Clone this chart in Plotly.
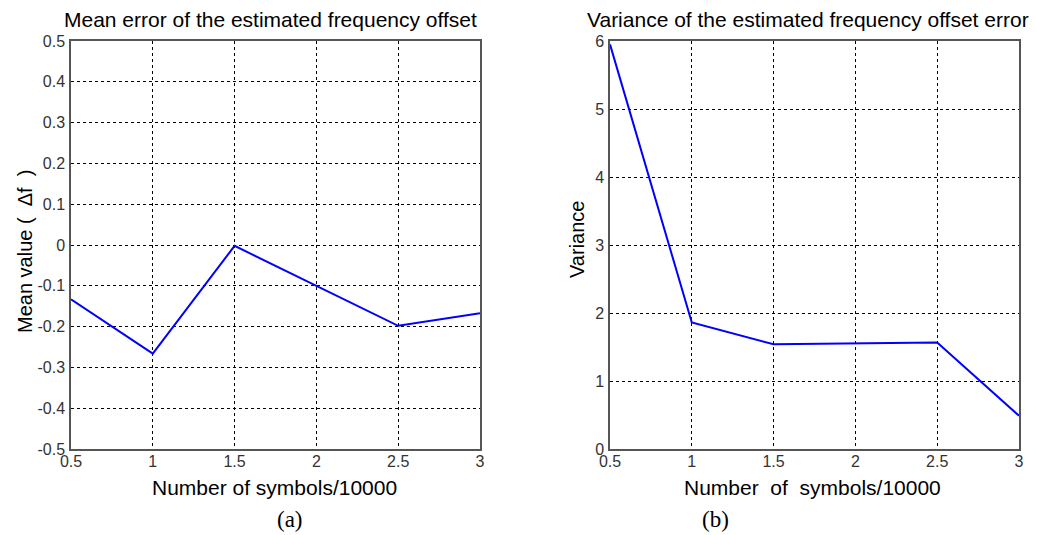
import plotly.graph_objects as go
from plotly.subplots import make_subplots

symbols = [0.5, 1.0, 1.5, 2.0, 2.5, 3.0]
mean_error = [-0.133, -0.266, -0.002, -0.100, -0.198, -0.167]
variance = [5.95, 1.86, 1.54, 1.55, 1.565, 0.49]

x_ticks = [0.5, 1, 1.5, 2, 2.5, 3]
x_tick_labels = ["0.5", "1", "1.5", "2", "2.5", "3"]
y1_ticks = [-0.5, -0.4, -0.3, -0.2, -0.1, 0, 0.1, 0.2, 0.3, 0.4, 0.5]
y1_tick_labels = ["-0.5", "-0.4", "-0.3", "-0.2", "-0.1", "0", "0.1", "0.2", "0.3", "0.4", "0.5"]
y2_ticks = [0, 1, 2, 3, 4, 5, 6]
y2_tick_labels = ["0", "1", "2", "3", "4", "5", "6"]

# The page body adds an 8px offset; lay out in window pixels and compensate.
OFF = 8
W, H = 1038 - OFF, 535 - OFF


def px(x):
    return (x - OFF) / W


def py(y):
    return 1 - (y - OFF) / H


fig = make_subplots(rows=1, cols=2)

fig.add_trace(go.Scatter(x=symbols, y=mean_error, mode="lines",
                         line=dict(color="#0000ff", width=2), showlegend=False), row=1, col=1)
fig.add_trace(go.Scatter(x=symbols, y=variance, mode="lines",
                         line=dict(color="#0000ff", width=2), showlegend=False), row=1, col=2)

axis_common = dict(showline=True, mirror=True, linecolor="#555555", linewidth=1.5,
                   showgrid=True, gridcolor="#000000", gridwidth=1, griddash="3px,3px",
                   zeroline=False, ticks="", automargin=False,
                   tickfont=dict(family="Liberation Sans", size=16, color="#333333"))

fig.update_xaxes(**axis_common, range=[0.5, 3], tickvals=x_ticks, ticktext=x_tick_labels, ticklabelstandoff=-3)
fig.update_yaxes(**axis_common, ticklabelstandoff=1)
fig.update_yaxes(range=[-0.5, 0.5], tickvals=y1_ticks, ticktext=y1_tick_labels, row=1, col=1)
fig.update_yaxes(range=[0, 6], tickvals=y2_ticks, ticktext=y2_tick_labels, row=1, col=2)

fig.update_layout(
    width=W, height=H,
    margin=dict(l=0, r=0, t=0, b=0, autoexpand=False),
    paper_bgcolor="white", plot_bgcolor="white",
    xaxis=dict(domain=[px(71), px(480)]),
    xaxis2=dict(domain=[px(610), px(1019)]),
    yaxis=dict(domain=[py(449), py(41)]),
    yaxis2=dict(domain=[py(449), py(41)]),
)

title_font = dict(family="Liberation Sans", size=21, color="#000000")
label_font = dict(family="Liberation Sans", size=21, color="#000000")
ylabel_font = dict(family="Liberation Sans", size=20, color="#000000")
cap_font = dict(family="Liberation Serif", size=23, color="#000000")

annotations = [
    dict(text="Mean error of the estimated frequency offset", x=px(270), y=py(19), font=title_font),
    dict(text="Variance of the estimated frequency offset error", x=px(808), y=py(19), font=title_font),
    dict(text="Number of symbols/10000", x=px(274), y=py(487), font=label_font),
    dict(text="Number\u00a0 of\u00a0 symbols/10000", x=px(812), y=py(487), font=label_font),
    dict(text="Mean value (\u00a0 \u0394f\u00a0 )", x=px(25), y=py(252), font=ylabel_font, textangle=-90),
    dict(text="Variance", x=px(577), y=py(240), font=ylabel_font, textangle=-90),
    dict(text="(a)", x=px(290), y=py(519), font=cap_font),
    dict(text="(b)", x=px(715), y=py(519), font=cap_font),
]
for a in annotations:
    fig.add_annotation(xref="paper", yref="paper", showarrow=False,
                       xanchor="center", yanchor="middle", **a)

fig.write_html("out.html")
